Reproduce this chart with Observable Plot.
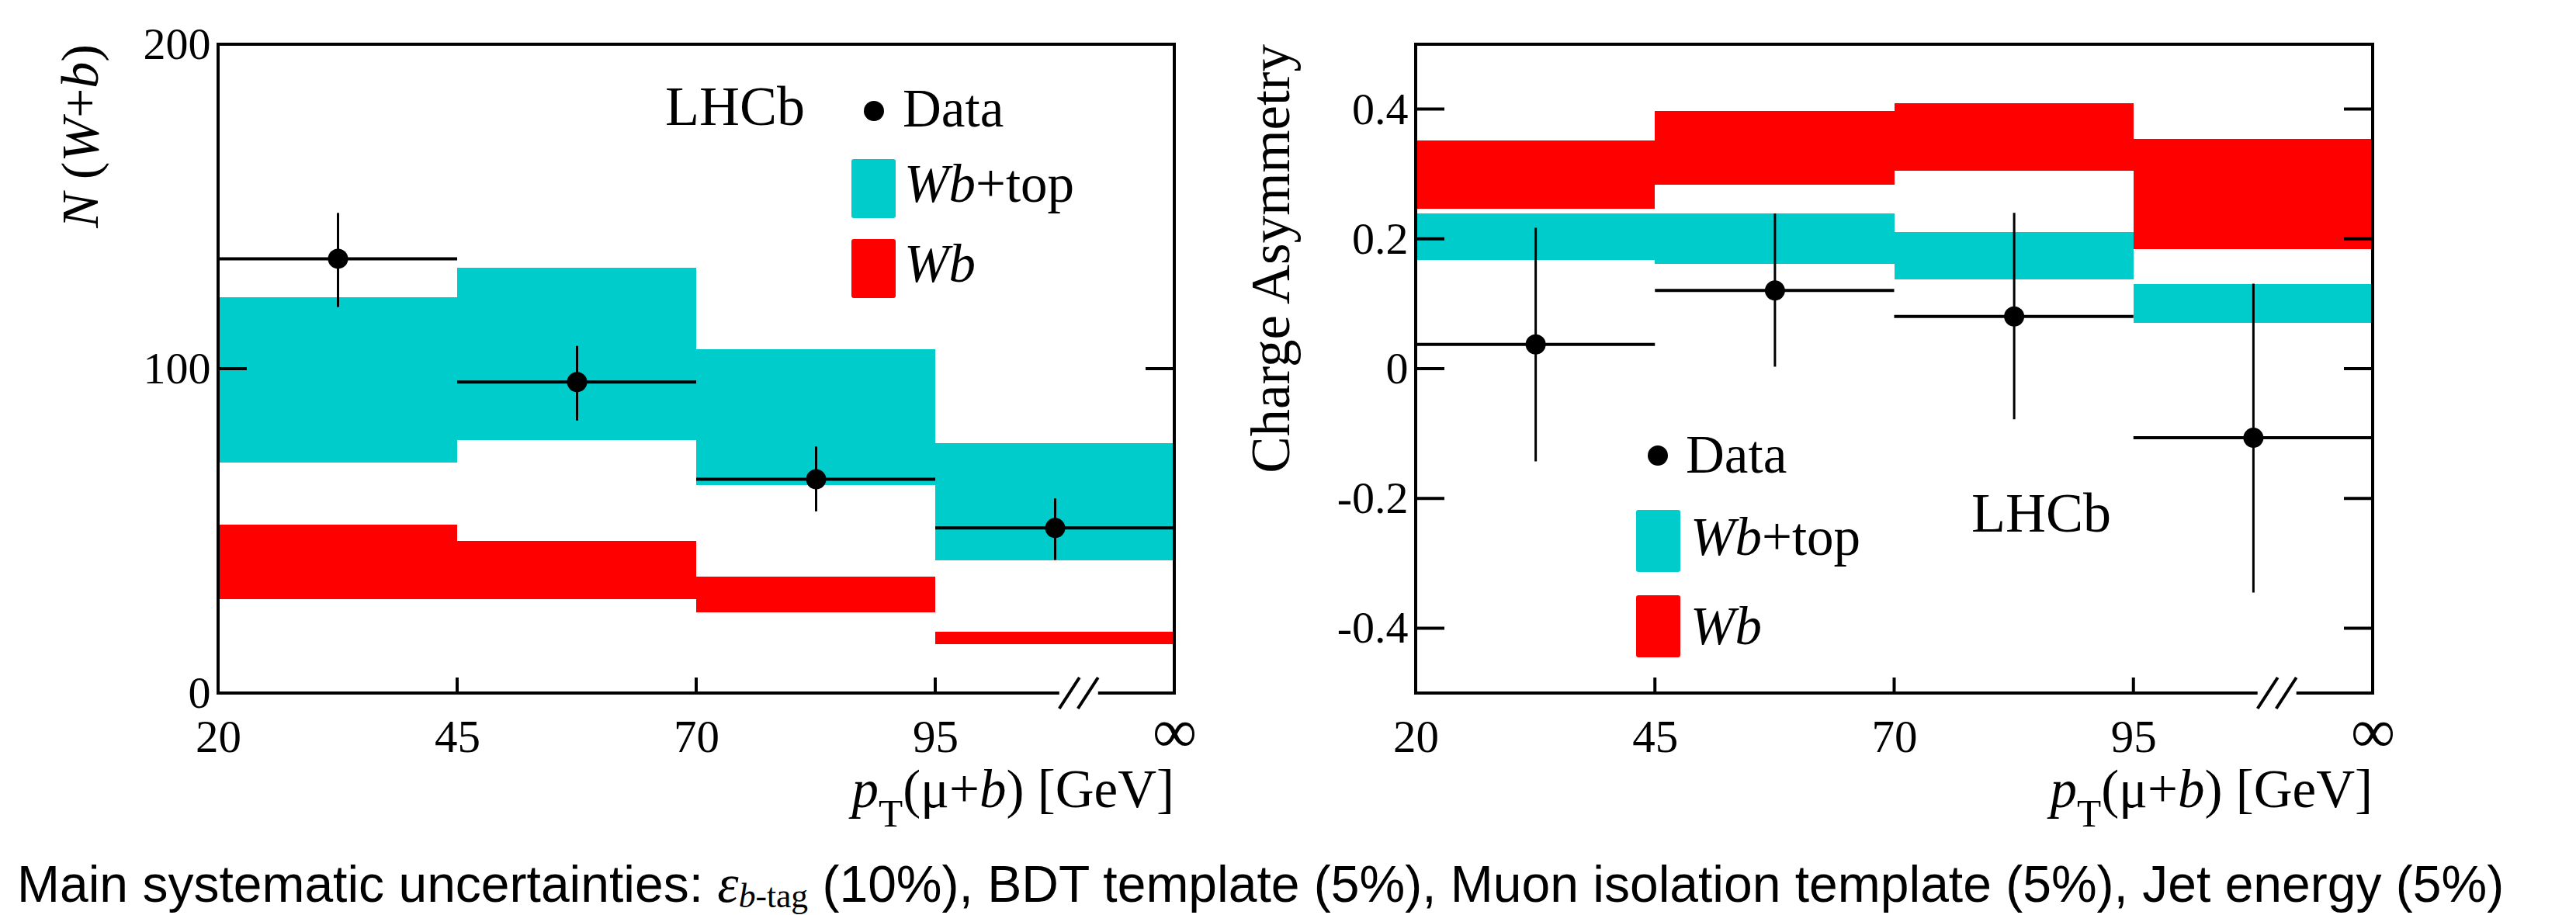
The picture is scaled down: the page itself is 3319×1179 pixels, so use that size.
<!DOCTYPE html>
<html><head><meta charset="utf-8">
<script src="https://cdn.jsdelivr.net/npm/d3@7"></script>
<script src="https://cdn.jsdelivr.net/npm/@observablehq/plot@0.6"></script>
<style>
html,body{margin:0;padding:0;background:#fff;}
#wrap{position:relative;width:3319px;height:1179px;overflow:hidden;background:#fff;}
#left{position:absolute;left:0;top:0;}
#right{position:absolute;left:1600px;top:0;}
#caption{position:absolute;left:22px;top:1106px;font-family:"Liberation Sans",Arial,Helvetica,sans-serif;font-size:66px;line-height:66px;white-space:nowrap;color:#000;}
#caption .eps{font-family:"Liberation Serif","Times New Roman",serif;font-style:italic;font-size:1.05em;}
#caption sub{font-family:"Liberation Serif","Times New Roman",serif;font-size:0.66em;vertical-align:-0.16em;line-height:0;}
</style></head><body>
<div id="wrap">
  <div id="left"></div>
  <div id="right"></div>
  <div id="caption">Main systematic uncertainties: <span class="eps">ε</span><sub><i>b</i>-tag</sub> (10%), BDT template (5%), Muon isolation template (5%), Jet energy (5%)</div>
</div>
<script>
// ---------------- data ----------------
const ptEdges = ["20", "45", "70", "95", "∞"];   // bin edge labels of pT(mu+b) [GeV]
const binIndex = [0, 1, 2, 3];

// Left: N(W+b)
const nData    = [134, 96, 66, 51];
const nDataLo  = [119, 84, 56, 41];
const nDataHi  = [148, 107, 76, 60];
const nWbTopLo = [71, 78, 64, 41];
const nWbTopHi = [122, 131, 106, 77];
const nWbLo    = [29, 29, 25, 15];
const nWbHi    = [52, 47, 36, 19];
const nTicks   = [0, 100, 200];

// Right: charge asymmetry
const aData    = [0.038, 0.121, 0.081, -0.106];
const aDataLo  = [-0.143, 0.003, -0.078, -0.345];
const aDataHi  = [0.217, 0.239, 0.240, 0.131];
const aWbTopLo = [0.168, 0.161, 0.137, 0.071];
const aWbTopHi = [0.239, 0.239, 0.210, 0.130];
const aWbLo    = [0.246, 0.284, 0.305, 0.184];
const aWbHi    = [0.352, 0.397, 0.409, 0.354];
const aTicks   = [-0.4, -0.2, 0, 0.2, 0.4];

const axisBreakAt = 3.6; // location of the "//" axis break, in bin units

// ---------------- helpers ----------------
const CYAN = "#00cccc", RED = "#ff0000";
const SERIF = "'Liberation Serif','Times New Roman',Times,serif";
const edgeIdx = ptEdges.map((_, i) => i);
const numericEdges = edgeIdx.filter(i => ptEdges[i] !== "∞");
const infEdges = edgeIdx.filter(i => ptEdges[i] === "∞");

function makeRows(d, dLo, dHi, tLo, tHi, wLo, wHi) {
  return binIndex.map(i => ({x1: i, x2: i + 1, xm: i + 0.5,
    d: d[i], dLo: dLo[i], dHi: dHi[i], tLo: tLo[i], tHi: tHi[i], wLo: wLo[i], wHi: wHi[i]}));
}

function richText(g, x, y, size, segs, {anchor = "start", rotate = false} = {}) {
  const t = g.append("text").attr("x", x).attr("y", y).attr("font-size", size)
    .attr("text-anchor", anchor).attr("fill", "black").attr("font-family", SERIF);
  if (rotate) t.attr("transform", `rotate(-90 ${x} ${y})`);
  let off = 0;
  for (const s of segs) {
    const ts = t.append("tspan").text(s.t);
    if (s.it) ts.attr("font-style", "italic");
    if (s.sub) {
      ts.attr("font-size", size * s.sub).attr("dy", s.dy * size);
      off = s.dy * size;
    } else if (off) {
      ts.attr("dy", -off); off = 0;
    }
  }
  return t;
}

function frameMark(yTicks) {
  return (index, {x, y}, values, dim) => {
    const L = dim.marginLeft, T = dim.marginTop;
    const R = dim.width - dim.marginRight, B = dim.height - dim.marginBottom;
    const g = d3.create("svg:g").attr("fill", "none").attr("stroke", "black").attr("stroke-width", 4);
    const bx = x(axisBreakAt), gap = 25;
    g.append("path").attr("d", `M${bx - gap},${B}H${L}V${T}H${R}V${B}H${bx + gap}`);
    for (const s of [-12, 12])
      g.append("line").attr("x1", bx + s - 13).attr("y1", B + 20).attr("x2", bx + s + 13).attr("y2", B - 20);
    for (const t of yTicks) {
      const yy = y(t);
      g.append("line").attr("x1", L).attr("x2", L + 37).attr("y1", yy).attr("y2", yy);
      g.append("line").attr("x1", R - 37).attr("x2", R).attr("y1", yy).attr("y2", yy);
    }
    for (const i of [1, 2, 3]) {
      const xx = x(i);
      g.append("line").attr("x1", xx).attr("x2", xx).attr("y1", B).attr("y2", B - 20);
    }
    return g.node();
  };
}

function titlesMark({yTitleSegs, yTitleX, yTitleSize}) {
  return (index, scales, values, dim) => {
    const g = d3.create("svg:g");
    const T = dim.marginTop, R = dim.width - dim.marginRight, B = dim.height - dim.marginBottom;
    richText(g, yTitleX, T, yTitleSize, yTitleSegs, {anchor: "end", rotate: true});
    richText(g, R, B + 147, 69, [
      {t: "p", it: true}, {t: "T", sub: 0.74, dy: 0.36}, {t: "(μ+"}, {t: "b", it: true}, {t: ") [GeV]"}
    ], {anchor: "end"});
    return g.node();
  };
}

function legendMark(p) {
  return () => {
    const g = d3.create("svg:g");
    richText(g, p.lhcb[0], p.lhcb[1], 72, [{t: "LHCb"}]);
    g.append("circle").attr("cx", p.dot[0]).attr("cy", p.dot[1]).attr("r", 13).attr("fill", "black");
    richText(g, p.data[0], p.data[1], 69, [{t: "Data"}]);
    g.append("rect").attr("x", p.box[0]).attr("y", p.box[1]).attr("width", 57).attr("height", p.box[2]).attr("rx", 3).attr("fill", CYAN);
    richText(g, p.top[0], p.top[1], 69, [{t: "W", it: true}, {t: "b", it: true}, {t: "+top"}]);
    g.append("rect").attr("x", p.box[0]).attr("y", p.box[3]).attr("width", 57).attr("height", p.box[2]).attr("rx", 3).attr("fill", RED);
    richText(g, p.wb[0], p.wb[1], 69, [{t: "W", it: true}, {t: "b", it: true}]);
    return g.node();
  };
}

function panel({rows, yDomain, yTicks, yFmt, width, marginLeft, marginRight, titles, legend}) {
  return Plot.plot({
    width, height: 1070,
    marginLeft, marginRight, marginTop: 57, marginBottom: 177,
    x: {domain: [0, 4]},
    y: {domain: yDomain},
    style: {fontFamily: SERIF, fontSize: "58px", color: "black", background: "white", overflow: "visible"},
    marks: [
      Plot.rect(rows, {x1: "x1", x2: "x2", y1: "tLo", y2: "tHi", fill: CYAN, shapeRendering: "crispEdges"}),
      Plot.rect(rows, {x1: "x1", x2: "x2", y1: "wLo", y2: "wHi", fill: RED, shapeRendering: "crispEdges"}),
      Plot.ruleY(rows, {y: "d", x1: "x1", x2: "x2", stroke: "black", strokeWidth: 4}),
      Plot.ruleX(rows, {x: "xm", y1: "dLo", y2: "dHi", stroke: "black", strokeWidth: 3}),
      Plot.dot(rows, {x: "xm", y: "d", r: 13, fill: "black", stroke: null}),
      Plot.axisY({ticks: yTicks, tickFormat: yFmt, tickSize: 0, tickPadding: 10, label: null, fontSize: 58}),
      Plot.axisX({ticks: numericEdges, tickFormat: i => ptEdges[i], tickSize: 0, tickPadding: 34, label: null, fontSize: 59}),
      Plot.text(infEdges, {x: d => d, frameAnchor: "bottom", text: d => ptEdges[d], fontSize: 80, lineAnchor: "middle", dy: 50}),
      frameMark(yTicks),
      titlesMark(titles),
      legendMark(legend)
    ]
  });
}

const leftRows = makeRows(nData, nDataLo, nDataHi, nWbTopLo, nWbTopHi, nWbLo, nWbHi);
const rightRows = makeRows(aData, aDataLo, aDataHi, aWbTopLo, aWbTopHi, aWbLo, aWbHi);

document.getElementById("left").append(panel({
  rows: leftRows, yDomain: [0, 200], yTicks: nTicks, yFmt: d => String(d),
  width: 1600, marginLeft: 281, marginRight: 87,
  titles: {yTitleX: 126, yTitleSize: 68, yTitleSegs: [{t: "N", it: true}, {t: " ("}, {t: "W", it: true}, {t: "+"}, {t: "b", it: true}, {t: ")"}]},
  legend: {lhcb: [857, 161], dot: [1126, 143], data: [1163, 163], box: [1097, 205, 76, 308], top: [1165, 260], wb: [1165, 363]}
}));

document.getElementById("right").append(panel({
  rows: rightRows, yDomain: [-0.5, 0.5], yTicks: aTicks, yFmt: d => String(d),
  width: 1719, marginLeft: 224, marginRight: 262,
  titles: {yTitleX: 61, yTitleSize: 71, yTitleSegs: [{t: "Charge Asymmetry"}]},
  legend: {lhcb: [940, 685], dot: [536, 587], data: [572, 609], box: [508, 657, 80, 767], top: [578, 715], wb: [578, 830]}
}));
</script>
</body></html>
